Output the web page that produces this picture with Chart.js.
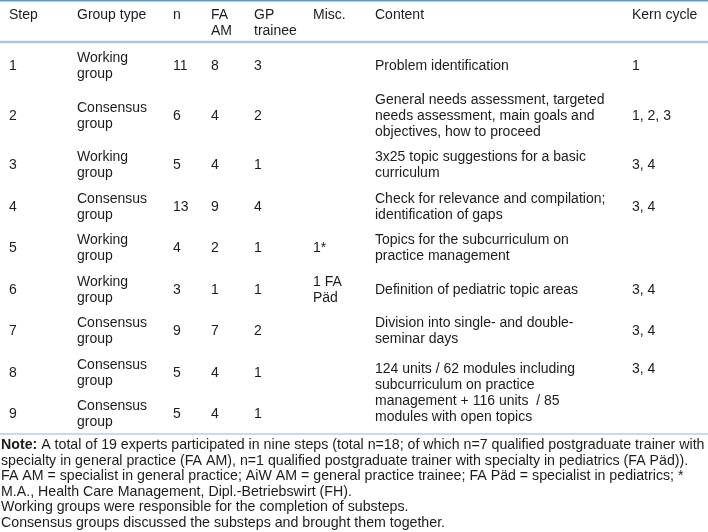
<!DOCTYPE html>
<html>
<head>
<meta charset="utf-8">
<script src="https://cdn.jsdelivr.net/npm/chart.js@4.4.1/dist/chart.umd.min.js"></script>
<style>
  html, body { margin: 0; padding: 0; background: #fff; }
  #wrap { width: 708px; height: 532px; }
</style>
</head>
<body>
<div id="wrap"><canvas id="tbl"></canvas></div>
<script>
// table data
const headers = ["Step", "Group type", "n", "FA\nAM", "GP\ntrainee", "Misc.", "Content", "Kern cycle"]
const steps = ["1", "2", "3", "4", "5", "6", "7", "8", "9"]
const groupTypes = [
  "Working\ngroup", "Consensus\ngroup", "Working\ngroup", "Consensus\ngroup", "Working\ngroup",
  "Working\ngroup", "Consensus\ngroup", "Consensus\ngroup", "Consensus\ngroup"
]
const nTotal = [11, 6, 5, 13, 4, 3, 9, 5, 5]
const faAm = [8, 4, 4, 9, 2, 1, 7, 4, 4]
const gpTrainee = [3, 2, 1, 4, 1, 1, 2, 1, 1]
const misc = ["", "", "", "", "1*", "1 FA\nPäd", "", "", ""]
// null = merged with the cell above
const content = [
  "Problem identification",
  "General needs assessment, targeted\nneeds assessment, main goals and\nobjectives, how to proceed",
  "3x25 topic suggestions for a basic\ncurriculum",
  "Check for relevance and compilation;\nidentification of gaps",
  "Topics for the subcurriculum on\npractice management",
  "Definition of pediatric topic areas",
  "Division into single- and double-\nseminar days",
  "124 units / 62 modules including\nsubcurriculum on practice\nmanagement + 116 units  / 85\nmodules with open topics",
  null
]
const kernCycle = ["1", "1, 2, 3", "3, 4", "3, 4", "", "3, 4", "3, 4", "3, 4", null]
const noteLines = [
  "A total of 19 experts participated in nine steps (total n=18; of which n=7 qualified postgraduate trainer with",
  "specialty in general practice (FA AM), n=1 qualified postgraduate trainer with specialty in pediatrics (FA Päd)).",
  "FA AM = specialist in general practice; AiW AM = general practice trainee; FA Päd = specialist in pediatrics; *",
  "M.A., Health Care Management, Dipl.-Betriebswirt (FH).",
  "Working groups were responsible for the completion of substeps.",
  "Consensus groups discussed the substeps and brought them together."
]

// layout (in scale units = px)
const colX = [9, 77, 173, 211, 254, 313, 375, 632]
const LINE = 16
const DY = 1
const FONT = '14px "Liberation Sans", Arial, sans-serif'
const NOTE_FONT = '14.2px "Liberation Sans", Arial, sans-serif'
const NOTE_BOLD = 'bold 14.2px "Liberation Sans", Arial, sans-serif'
const TEXT = "#1c1c1c"

const lines = v => (v === null || v === undefined || v === "") ? [] : String(v).split("\n")

const tablePlugin = {
  id: "table",
  afterDraw(chart) {
    const { ctx, scales: { x, y } } = chart
    ctx.save()
    ctx.fillStyle = TEXT
    ctx.font = FONT
    ctx.textBaseline = "middle"
    ctx.textAlign = "left"

    const put = (t, col, yv) => ctx.fillText(t, x.getPixelForValue(colX[col]), y.getPixelForValue(yv + DY))
    const block = (txt, col, cy) => {
      const ls = lines(txt)
      const start = cy - (ls.length - 1) * LINE / 2
      ls.forEach((l, i) => put(l, col, start + i * LINE))
    }

    // header (top aligned)
    headers.forEach((h, c) => {
      lines(h).forEach((l, i) => put(l, c, 14.5 + i * LINE))
    })

    // rows
    let top = 44.5
    const tops = [], heights = []
    steps.forEach((s, r) => {
      const spans = content[r + 1] === null
      const cells = [s, groupTypes[r], nTotal[r], faAm[r], gpTrainee[r], misc[r]]
      if (!spans && content[r] !== null) cells.push(content[r])
      const maxL = Math.max(...cells.map(v => lines(v).length))
      const h = maxL * LINE + 9.5
      tops.push(top); heights.push(h)
      const cy = top + h / 2
      block(s, 0, cy)
      block(groupTypes[r], 1, cy)
      block(nTotal[r], 2, cy)
      block(faAm[r], 3, cy)
      block(gpTrainee[r], 4, cy)
      block(misc[r], 5, cy)
      top += h
    })
    steps.forEach((s, r) => {
      if (content[r] === null) return
      let h = heights[r]
      if (content[r + 1] === null) h += heights[r + 1]
      const cy = tops[r] + h / 2
      block(content[r], 6, cy)
      const nl = lines(content[r]).length
      if (content[r + 1] === null) {
        // merged cell: kern value sits at the first content line
        block(kernCycle[r], 7, cy - (nl - 1) * LINE / 2)
      } else {
        block(kernCycle[r], 7, cy)
      }
    })
    const bottom = top

    // rules
    const x0 = x.getPixelForValue(0), x1 = x.getPixelForValue(708)
    const rule = (yv, w, col) => {
      ctx.strokeStyle = col
      ctx.lineWidth = w
      ctx.beginPath()
      ctx.moveTo(x0, y.getPixelForValue(yv))
      ctx.lineTo(x1, y.getPixelForValue(yv))
      ctx.stroke()
    }
    rule(0.75, 1.5, "#5b9bd5")
    rule(42, 2.5, "#a8c6e6")
    rule(bottom, 1, "#8fb6e0")

    // note
    noteLines.forEach((l, i) => {
      const yy = y.getPixelForValue(bottom + 11 + i * 15.6)
      let xx = x.getPixelForValue(1)
      if (i === 0) {
        ctx.font = NOTE_BOLD
        ctx.fillText("Note:", xx, yy)
        xx += ctx.measureText("Note: ").width
      }
      ctx.font = NOTE_FONT
      ctx.fillText(l, xx, yy)
    })
    ctx.restore()
  }
}

new Chart(document.getElementById("tbl"), {
  type: "scatter",
  data: { datasets: [] },
  options: {
    responsive: true,
    maintainAspectRatio: false,
    animation: false,
    layout: { padding: 0 },
    plugins: { legend: { display: false }, tooltip: { enabled: false } },
    scales: {
      x: { type: "linear", min: 0, max: 708, display: false },
      y: { type: "linear", min: 0, max: 532, reverse: true, display: false }
    }
  },
  plugins: [tablePlugin]
})
</script>
</body>
</html>
